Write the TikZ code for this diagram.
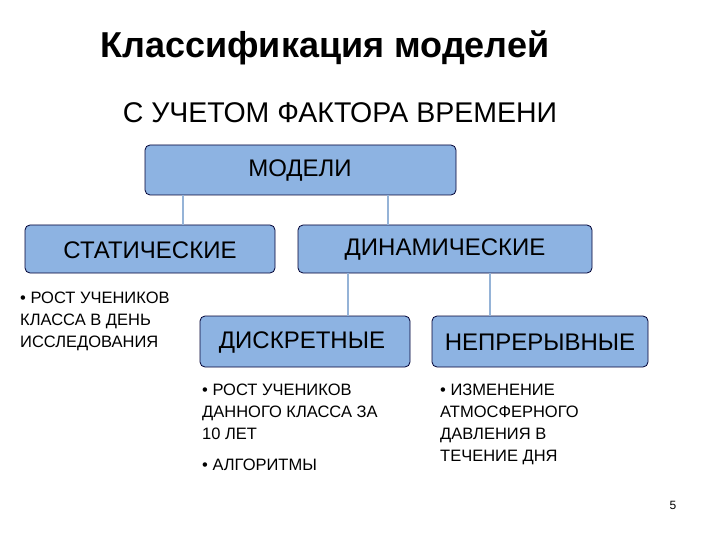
\documentclass[tikz,border=0pt]{standalone}
\usepackage{fontspec}
\setmainfont{Liberation Sans}
\begin{document}
\begin{tikzpicture}[x=1pt,y=-1pt,
  bx/.style={draw=black!80!blue,line width=0.8pt,fill=boxblue,rounded corners=5pt,inner sep=0pt},
  ln/.style={draw=lineblue,line width=2.5pt},
  bt/.style={font=\fontsize{24}{26}\selectfont},
  note/.style={font=\fontsize{16.5}{22}\selectfont,align=left,anchor=north west,inner sep=0pt}]
\definecolor{boxblue}{HTML}{8DB3E2}
\definecolor{lineblue}{HTML}{95B3D7}
\useasboundingbox (0,0) rectangle (720,540);
\node[font=\bfseries\fontsize{36}{40}\selectfont] (title) at (325,48) {Классификация моделей};
\node[font=\fontsize{28.5}{32}\selectfont] (sub) at (340,113) {С УЧЕТОМ ФАКТОРА ВРЕМЕНИ};
\node[bx,minimum width=311,minimum height=50] (m) at (300.5,170) {};
\node[bt] at (300,171) {МОДЕЛИ};
\node[bx,minimum width=250,minimum height=48] (s) at (150,249) {};
\node[bt] at (150,250) {СТАТИЧЕСКИЕ};
\node[bx,minimum width=294,minimum height=48] (d) at (445,249) {};
\node[bt] at (445,250) {ДИНАМИЧЕСКИЕ};
\node[bx,minimum width=210,minimum height=51] (dk) at (305,341.5) {};
\node[bt] at (302,342.5) {ДИСКРЕТНЫЕ};
\node[bx,minimum width=216,minimum height=51] (np) at (540,341.5) {};
\node[bt] at (540,342.5) {НЕПРЕРЫВНЫЕ};
\draw[ln] (183,195) -- (183,225);
\draw[ln] (388,195) -- (388,225);
\draw[ln] (348,273) -- (348,316);
\draw[ln] (490,273) -- (490,316);
\node[note] (n1) at (20,292) {• РОСТ УЧЕНИКОВ\\КЛАССА В ДЕНЬ\\ИССЛЕДОВАНИЯ};
\node[note] (n2) at (202,384) {• РОСТ УЧЕНИКОВ\\ДАННОГО КЛАССА ЗА\\10 ЛЕТ};
\node[note] (n3) at (202,459) {• АЛГОРИТМЫ};
\node[note] (n4) at (440,384) {• ИЗМЕНЕНИЕ\\АТМОСФЕРНОГО\\ДАВЛЕНИЯ В\\ТЕЧЕНИЕ ДНЯ};
\node[font=\fontsize{12}{14}\selectfont] (pg) at (673,505) {5};
\end{tikzpicture}
\end{document}
